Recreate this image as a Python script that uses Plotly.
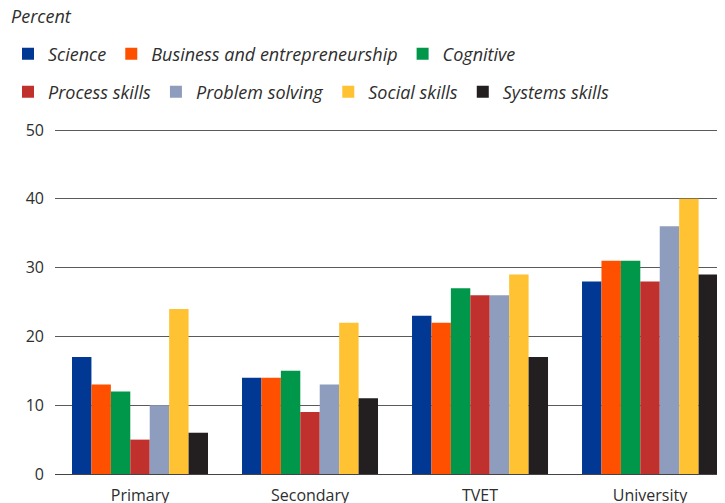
import plotly.graph_objects as go

categories = ["Primary", "Secondary", "TVET", "University"]
series_names = ["Science", "Business and entrepreneurship", "Cognitive",
                "Process skills", "Problem solving", "Social skills", "Systems skills"]
science = [17, 14, 23, 28]
business = [13, 14, 22, 31]
cognitive = [12, 15, 27, 31]
process_skills = [5, 9, 26, 28]
problem_solving = [10, 13, 26, 36]
social_skills = [24, 22, 29, 40]
systems_skills = [6, 11, 17, 29]
y_ticks = [0, 10, 20, 30, 40, 50]

colors = ["#003893", "#FF5000", "#00974A", "#C0312E", "#8E9DBE", "#FFC232", "#231F20"]
values = [science, business, cognitive, process_skills, problem_solving, social_skills, systems_skills]

FONT = "Open Sans"
TXT = "#2e2e2e"
# page body has an 8px margin; figure coordinates are page coordinates minus 8
W, H = 717, 495
L, T, B = 47, 120, 29
PW, PH = W - L, H - T - B
YMAX = 50.3

fig = go.Figure()
for i, (name, vals) in enumerate(zip(series_names, values)):
    fig.add_trace(go.Bar(
        x=categories, y=vals, name=name,
        marker=dict(color=colors[i], line=dict(width=0)),
        legend="legend" if i < 3 else "legend2",
    ))

leg_common = dict(orientation="h", xref="container", yref="container",
                  x=0.0, xanchor="left", yanchor="middle",
                  font=dict(family=FONT, size=18, color=TXT, style="italic"),
                  bgcolor="rgba(0,0,0,0)", traceorder="normal",
                  itemwidth=30)

fig.update_layout(
    width=W, height=H,
    margin=dict(l=L, r=0, t=T, b=B, autoexpand=False),
    paper_bgcolor="white", plot_bgcolor="white",
    barmode="group", bargap=0.2, bargroupgap=0,
    showlegend=True,
    legend=dict(**leg_common, y=1 - 46 / H),
    legend2=dict(**leg_common, y=1 - 84 / H),
    font=dict(family=FONT, color=TXT),
    title=dict(text="Percent", xref="container", yref="container",
               x=3 / W, y=1 - 9 / H, xanchor="left", yanchor="middle",
               font=dict(family=FONT, size=18, color=TXT, style="italic")),
    xaxis=dict(range=[-0.5, 3.441], showgrid=False, ticks="",
               tickfont=dict(family=FONT, size=16, color=TXT),
               showline=False, zeroline=False, ticklabelstandoff=10),
    yaxis=dict(range=[0, YMAX], tickvals=y_ticks, showgrid=True,
               gridcolor="#5a5a5a", gridwidth=1, zeroline=True,
               zerolinecolor="#444444", zerolinewidth=1,
               tickfont=dict(family=FONT, size=16, color=TXT),
               ticks="", ticklabelstandoff=10),
)

fig.write_html("out.html")
